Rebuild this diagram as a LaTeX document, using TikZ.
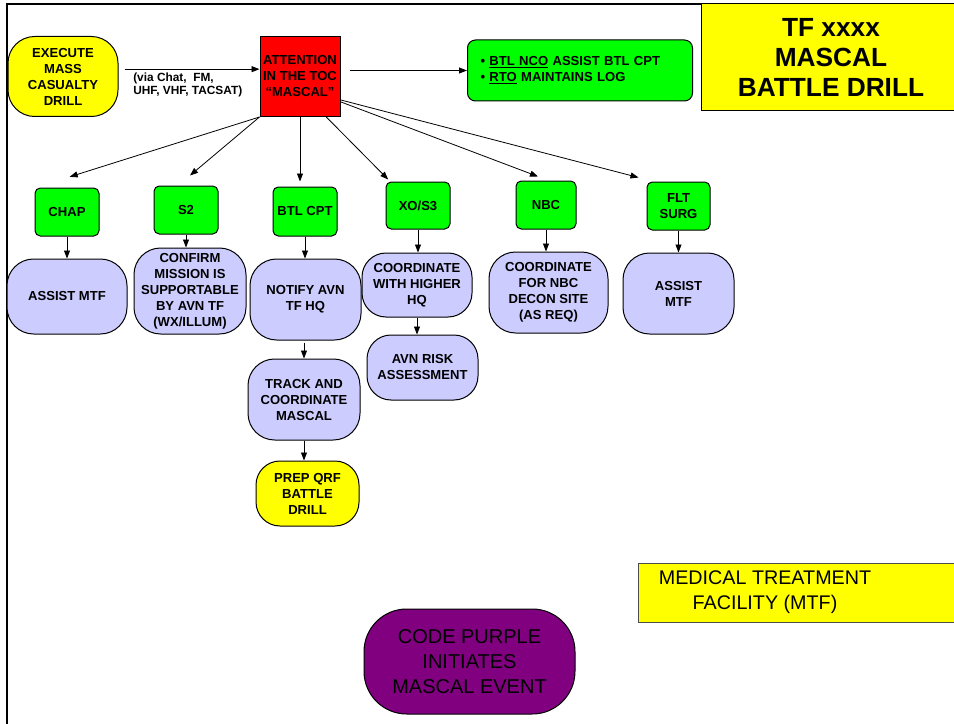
\documentclass[tikz,border=0pt]{standalone}
\usepackage{fontspec}
\setmainfont{Liberation Sans}
\usetikzlibrary{arrows.meta}

\definecolor{drillyellow}{HTML}{FFFF00}
\definecolor{tocred}{HTML}{FF0000}
\definecolor{staffgreen}{HTML}{00FF00}
\definecolor{tasklav}{HTML}{CCCCFF}
\definecolor{codepurple}{HTML}{800080}

\tikzset{
  box/.style={draw, line width=0.75pt, inner sep=0pt, align=center,
    font=\fontsize{9.8}{12}\selectfont\bfseries},
  staff/.style={box, fill=staffgreen, rounded corners=4pt,
    minimum width=48pt, minimum height=36pt},
  task/.style={box, fill=tasklav, rounded corners=20pt},
  arr/.style={-{Triangle[length=6pt,width=4.5pt]}, line width=0.6pt}
}

\begin{document}
\begin{tikzpicture}[x=0.75pt,y=-0.75pt]
  \useasboundingbox (0,0) rectangle (954,724);
  % page frame
  \draw[line width=1.1pt] (7,724) -- (7,4) -- (954,4);

  % top row
  \node[box, fill=drillyellow, rounded corners=20pt, minimum width=82.5pt,
    minimum height=60pt] (exec) at (63,76.5) {EXECUTE\\MASS\\CASUALTY\\DRILL};
  \node[box, fill=tocred, minimum width=60pt, minimum height=60pt]
    (att) at (300,76.5) {ATTENTION\\IN THE TOC\\“MASCAL”};
  \node[box, fill=staffgreen, rounded corners=6pt, anchor=west, align=left,
    text width=149.25pt, inner xsep=9.75pt, minimum height=45.75pt]
    (log) at (467,70.5) {• \underline{BTL NCO} ASSIST BTL CPT\\
                         • \underline{RTO} MAINTAINS LOG};
  \node[box, fill=drillyellow, minimum width=195pt, minimum height=80.25pt,
    font=\fontsize{19.7}{22.5}\selectfont\bfseries]
    (title) at (831,57.5) {TF xxxx\\MASCAL\\BATTLE DRILL};
  \node[anchor=west, inner sep=0pt, align=left,
    font=\fontsize{8.9}{10}\selectfont\bfseries]
    (via) at (133,85) {(via Chat,\ \ FM,\\UHF, VHF, TACSAT)};

  % staff sections
  \node[staff] (chap) at (67,212) {CHAP};
  \node[staff] (s2) at (186,210) {S2};
  \node[staff, minimum height=36.75pt] (btl) at (305,211.5) {BTL CPT};
  \node[staff, minimum height=35.25pt] (xo) at (418,205.5) {XO/S3};
  \node[staff, minimum width=45pt] (nbc) at (546,205) {NBC};
  \node[staff, minimum width=47.25pt] (flt) at (678.5,206) {FLT\\SURG};

  % tasks
  \node[task, minimum width=90pt, minimum height=56.25pt]
    (chaptask) at (67,296.5) {ASSIST MTF};
  \node[task, minimum width=84pt, minimum height=64.5pt]
    (s2task) at (190,291) {CONFIRM\\MISSION IS\\SUPPORTABLE\\BY AVN TF\\(WX/ILLUM)};
  \node[task, minimum width=83.25pt, minimum height=60.75pt]
    (notify) at (305.5,299.5) {NOTIFY AVN\\TF HQ};
  \node[task, minimum width=84pt, minimum height=60.75pt]
    (track) at (304,399.5) {TRACK AND\\COORDINATE\\MASCAL};
  \node[box, fill=drillyellow, rounded corners=18pt, minimum width=77.25pt,
    minimum height=48.75pt] (qrf) at (307.5,493.5) {PREP QRF\\BATTLE\\DRILL};
  \node[task, rounded corners=18pt, minimum width=82.5pt, minimum height=48pt]
    (xotask) at (417,285) {COORDINATE\\WITH HIGHER\\HQ};
  \node[task, rounded corners=18pt, minimum width=83.25pt, minimum height=48.75pt]
    (risk) at (422.5,367.5) {AVN RISK\\ASSESSMENT};
  \node[task, minimum width=89.25pt, minimum height=60.75pt]
    (nbctask) at (548.5,292.5) {COORDINATE\\FOR NBC\\DECON SITE\\(AS REQ)};
  \node[task, minimum width=83.25pt, minimum height=60.75pt]
    (flttask) at (678.5,293.5) {ASSIST\\MTF};

  % legend boxes
  \draw[fill=drillyellow, draw=black!70, line width=0.75pt] (638,563) rectangle (960,622);
  \node[inner sep=0pt, align=center, font=\fontsize{14.8}{18.8}\selectfont]
    (mtf) at (765,592.5) {MEDICAL TREATMENT\\FACILITY (MTF)};
  \node[box, fill=codepurple, rounded corners=32pt, minimum width=158.25pt,
    minimum height=78.75pt, font=\fontsize{15}{18.8}\selectfont]
    (purple) at (469.5,661.5) {CODE PURPLE\\INITIATES\\MASCAL EVENT};

  % connectors
  \draw[arr] ([xshift=4.5pt,yshift=5.5pt]exec.east) -- ([yshift=5.5pt]att.west);
  \draw[arr] ([xshift=6.75pt]att.east |- log.west) -- (log.west);
  \draw[arr] (att.south west) -- ([xshift=2pt,yshift=8pt]chap.north);
  \draw[arr] (att.south west) -- ([xshift=3pt,yshift=7.5pt]s2.north);
  \draw[arr] (att.south) -- (att.south |- xo.north);
  \draw[arr] (att.-57) -- ([xshift=2pt,yshift=1.5pt]xo.north west);
  \draw[arr] (att.-32) -- ([xshift=-6pt,yshift=3pt]nbc.north);
  \draw[arr] (att.-30) -- ([xshift=-6pt,yshift=3pt]flt.north west);

  \draw[arr] (chap.south) -- (chap.south |- chaptask.north);
  \draw[arr] (s2.south) -- (s2.south |- s2task.north);
  \draw[arr] (btl.south) -- (btl.south |- notify.north);
  \draw[arr] (xo.south) -- (xo.south |- xotask.north);
  \draw[arr] (nbc.south) -- (nbc.south |- nbctask.north);
  \draw[arr] (flt.south) -- (flt.south |- flttask.north);
  \draw[arr] ([yshift=-1.5pt]notify.south -| track.north) -- (track.north);
  \draw[arr] (track.south) -- (track.south |- qrf.north);
  \draw[arr] (xotask.south) -- (xotask.south |- risk.north);
\end{tikzpicture}
\end{document}
